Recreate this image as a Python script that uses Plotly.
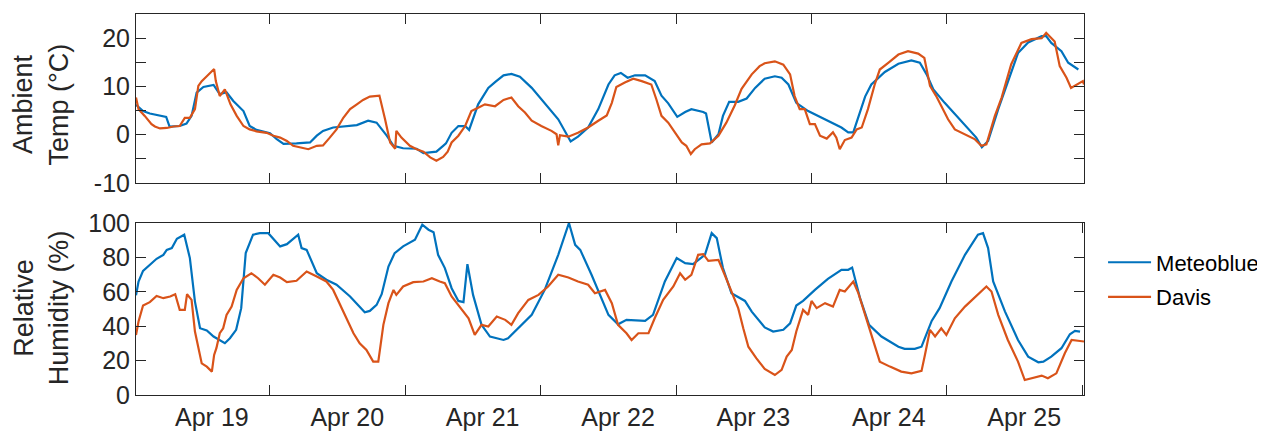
import pandas as pd
import plotly.graph_objects as go

# ---------------- data (hours after Apr 19 00:00) ----------------
start = pd.Timestamp("2024-04-19 00:00")

mb_temp_h = [0.25, 1.5, 2.7, 5.1, 5.6, 6.2, 8.0, 9.2, 10.1, 11.0, 12.2, 14.0, 15.1, 16.3, 17.5, 19.3,
             20.4, 21.6, 24.0, 25.2, 26.4, 28.7, 31.1, 32.3, 33.4, 35.2, 37.6, 39.4, 41.4, 42.9, 44.7,
             45.9, 47.6, 50.0, 51.2, 53.5, 54.7, 55.2, 56.2, 57.4, 58.6, 59.3, 60.9, 62.7, 63.9, 65.4,
             66.8, 68.3, 70.4, 72.7, 75.1, 77.3, 78.6, 80.4, 82.2, 84.0, 85.1, 86.2, 87.4, 88.7, 90.5,
             92.2, 93.4, 94.6, 96.2, 97.6, 98.7, 100.8, 101.3, 102.3, 103.5, 104.3, 105.4, 107.0, 108.5,
             110.0, 111.7, 113.5, 114.7, 115.9, 117.3, 119.4, 121.8, 125.3, 126.5, 127.4, 129.5, 130.6,
             133.0, 135.4, 137.7, 139.2, 140.4, 141.6, 143.6, 146.0, 149.2, 150.2, 151.3, 153.1, 154.9,
             156.6, 158.4, 160.8, 161.6, 162.5, 164.3, 165.5, 167.3]
mb_temp = [6.2, 4.9, 4.4, 3.9, 3.7, 1.7, 1.8, 2.3, 3.9, 8.7, 9.9, 10.3, 8.4, 8.8, 7.0, 4.9,
           1.8, 1.0, 0.3, -0.9, -1.9, -1.8, -1.6, -0.2, 0.8, 1.5, 1.7, 2.0, 2.9, 2.5, -0.2,
           -2.3, -2.8, -2.9, -3.8, -3.5, -2.3, -1.8, 0.4, 1.8, 1.8, 1.0, 6.3, 9.7, 10.9, 12.3,
           12.6, 12.0, 9.7, 6.6, 3.2, -1.4, -0.4, 1.5, 5.3, 10.4, 12.3, 12.8, 11.8, 12.3, 12.3,
           11.1, 8.1, 6.5, 3.7, 4.7, 5.3, 4.7, 4.4, -1.6, 0.1, 3.9, 6.8, 6.8, 7.5,
           9.7, 11.6, 12.1, 11.8, 10.4, 6.6, 4.9, 3.5, 1.5, 0.5, 0.5, 7.9, 10.4,
           13.0, 14.7, 15.4, 14.9, 12.5, 9.4, 6.6, 3.5, -0.6, -2.6, -1.3, 5.3, 11.4,
           16.9, 19.1, 20.4, 20.4, 19.0, 17.3, 14.9, 13.5]

dv_temp_h = [0.25, 0.7, 1.8, 3.0, 3.6, 4.5, 5.7, 6.9, 8.0, 8.9, 9.8, 10.7, 11.3, 11.9, 12.8, 13.7,
             14.1, 14.4, 15.1, 16.0, 17.0, 18.1, 19.3, 20.4, 21.6, 23.4, 24.6, 25.8, 27.0, 28.1, 29.3,
             30.8, 32.3, 33.4, 34.6, 35.8, 37.0, 38.2, 39.4, 40.5, 41.7, 42.9, 43.4, 44.4, 45.3, 46.2,
             46.4, 47.3, 48.8, 50.0, 51.2, 52.4, 53.5, 54.7, 55.5, 56.2, 57.4, 58.6, 59.7, 60.9, 62.1,
             63.9, 65.4, 66.8, 68.0, 69.2, 70.4, 72.1, 73.9, 74.8, 75.1, 75.4, 76.9, 78.6, 80.4, 82.2,
             83.7, 84.6, 85.4, 86.9, 88.4, 89.9, 91.6, 92.5, 93.4, 94.6, 95.8, 97.0, 97.8, 98.6, 99.3,
             100.5, 102.0, 103.5, 104.9, 106.4, 107.6, 109.4, 110.8, 111.7, 113.5, 115.0, 116.2, 117.0,
             117.9, 118.8, 119.7, 120.6, 121.5, 122.7, 123.8, 124.4, 125.0, 125.9, 127.1, 128.0, 128.9,
             130.0, 131.2, 132.1, 133.6, 135.4, 137.1, 138.9, 140.0, 141.0, 142.1, 143.0, 144.2, 145.4,
             147.2, 148.9, 150.1, 151.0, 152.5, 153.7, 155.4, 157.2, 159.0, 160.8, 161.6, 163.1, 164.0,
             165.2, 166.0, 167.0, 168.1, 168.3]
dv_temp = [7.7, 5.3, 3.9, 2.2, 1.7, 1.3, 1.4, 1.7, 1.8, 3.5, 3.5, 5.3, 10.1, 11.1, 12.1, 13.0,
           13.6, 11.1, 8.0, 9.4, 6.3, 3.9, 1.8, 1.1, 0.7, 0.4, -0.2, -0.6, -1.3, -2.3, -2.6,
           -3.0, -2.3, -2.2, -0.6, 1.1, 3.5, 5.3, 6.3, 7.2, 7.9, 8.0, 8.1, 3.2, -1.6, -2.9,
           0.8, -0.6, -2.3, -3.0, -3.5, -4.7, -5.4, -4.6, -3.5, -1.6, -0.2, 1.8, 4.9, 5.6, 6.3,
           5.9, 7.2, 7.7, 5.9, 4.6, 2.9, 1.8, 0.8, 0.1, -2.2, -0.1, -0.4, 0.4, 1.5, 2.9,
           4.0, 6.6, 9.9, 10.8, 11.6, 11.1, 10.4, 7.3, 3.9, 2.5, 0.4, -1.6, -2.3, -4.0, -3.0,
           -2.0, -1.8, -0.2, 2.5, 6.1, 9.5, 12.5, 14.2, 14.8, 15.2, 14.5, 12.5, 8.0,
           5.3, 5.3, 2.2, 2.2, -0.2, -0.8, 0.5, -0.6, -3.0, -1.1, -0.6, 1.1, 1.5,
           5.3, 10.4, 13.5, 14.9, 16.6, 17.3, 16.8, 15.9, 10.1, 8.0, 5.9, 3.2, 1.1,
           0.1, -0.9, -2.3, -2.0, 3.9, 7.7, 14.6, 19.0, 19.8, 20.0, 21.1, 19.3, 14.2,
           11.8, 9.7, 10.4, 11.1, 10.4]

mb_rh_h = [0.25, 0.7, 1.5, 2.7, 3.9, 5.1, 5.7, 6.6, 7.5, 8.8, 9.8, 10.7, 11.6, 12.8, 14.0, 16.0,
           16.9, 18.0, 18.9, 19.7, 21.0, 22.2, 23.7, 25.8, 27.0, 29.0, 29.6, 30.5, 32.3, 34.0, 35.8,
           38.2, 40.8, 41.7, 42.9, 43.8, 45.0, 46.1, 47.6, 49.7, 51.0, 52.1, 53.0, 53.8, 55.0, 56.2,
           57.4, 58.3, 59.0, 60.0, 61.5, 63.0, 65.4, 66.2, 68.0, 70.4, 72.7, 75.1, 77.0, 78.1, 79.0,
           81.0, 84.0, 85.7, 87.2, 90.5, 91.9, 94.0, 96.1, 97.6, 99.0, 101.1, 102.3, 103.2, 104.3,
           105.8, 108.2, 109.4, 111.7, 113.2, 115.0, 116.2, 117.3, 118.5, 120.6, 122.9, 125.3, 126.5,
           127.2, 128.6, 130.2, 132.4, 135.4, 136.5, 138.3, 139.5, 141.3, 142.7, 144.8, 147.2, 149.5,
           150.4, 151.3, 152.2, 154.3, 156.6, 158.4, 160.2, 161.1, 162.5, 164.3, 165.8, 166.7, 167.6]
mb_rh = [58.0, 66.0, 72.2, 75.7, 79.2, 81.5, 84.4, 85.4, 90.8, 93.2, 79.6, 54.3, 38.8, 37.5, 34.0, 30.1,
         33.0, 37.9, 50.5, 82.5, 93.2, 94.1, 94.1, 86.4, 87.7, 93.2, 85.4, 84.4, 70.8, 67.0, 64.1,
         57.3, 48.1, 48.9, 52.4, 58.6, 74.7, 82.5, 86.4, 90.3, 99.0, 96.1, 94.7, 81.5, 73.8, 62.1,
         54.7, 54.0, 76.1, 58.2, 40.8, 34.0, 32.0, 33.0, 38.8, 46.6, 61.1, 81.5, 100.0, 87.3, 84.4,
         69.9, 46.6, 41.1, 43.7, 43.1, 46.6, 66.0, 79.6, 76.7, 76.1, 81.5, 94.1, 91.2, 73.8,
         59.2, 54.7, 48.5, 39.3, 36.9, 37.9, 41.7, 52.0, 54.7, 61.1, 67.5, 72.8, 72.8,
         74.1, 56.3, 40.8, 34.0, 28.1, 26.8, 26.8, 28.1, 43.1, 50.5, 66.0, 81.5, 93.2,
         94.1, 85.4, 66.0, 48.5, 32.0, 22.3, 19.0, 19.4, 22.3, 27.2, 35.3, 37.3, 36.9]

dv_rh_h = [0.25, 0.7, 1.5, 2.7, 3.9, 5.1, 6.3, 7.2, 8.0, 8.9, 9.3, 10.1, 10.7, 11.3, 11.9, 12.8,
           13.7, 14.1, 14.5, 15.1, 15.7, 16.3, 17.2, 18.1, 19.3, 20.7, 21.9, 23.1, 24.6, 25.8, 27.0,
           28.7, 30.5, 32.3, 34.0, 35.2, 36.4, 37.6, 38.8, 39.9, 41.1, 42.3, 43.2, 44.1, 45.0, 45.9,
           46.4, 47.6, 49.4, 51.2, 52.7, 54.1, 55.0, 56.2, 58.0, 59.2, 60.3, 61.5, 62.7, 64.2, 65.7,
           66.8, 68.0, 69.8, 71.6, 73.3, 75.1, 76.9, 78.6, 80.4, 81.6, 83.4, 84.6, 85.7, 87.2, 88.1,
           89.3, 91.1, 92.2, 93.7, 95.5, 96.7, 97.6, 98.7, 99.9, 100.8, 101.7, 103.5, 104.6, 105.8,
           107.0, 107.9, 108.8, 110.2, 111.7, 113.5, 114.7, 115.6, 116.5, 117.3, 118.5, 119.4, 120.0,
           120.9, 122.4, 123.8, 125.0, 125.9, 127.4, 128.3, 129.5, 131.2, 132.1, 133.9, 135.9, 137.7,
           139.5, 140.1, 141.0, 141.9, 143.0, 143.9, 145.4, 147.2, 148.9, 151.0, 151.9, 153.1, 154.8,
           156.6, 157.8, 159.0, 160.8, 161.9, 163.4, 164.9, 166.1, 167.6, 168.3]
dv_rh = [34.9, 42.7, 52.0, 54.0, 57.6, 56.3, 57.3, 58.6, 49.5, 49.5, 58.6, 55.3, 36.9, 27.2, 18.4, 16.5,
         13.6, 23.3, 27.2, 35.9, 38.8, 46.6, 51.4, 61.1, 67.9, 70.8, 67.9, 64.1, 69.9, 68.3, 65.6,
         66.4, 71.8, 68.9, 66.0, 61.1, 52.4, 44.6, 35.9, 30.1, 26.2, 19.4, 19.4, 40.8, 53.4, 61.1,
         58.2, 63.1, 65.6, 66.0, 67.9, 66.0, 65.0, 57.3, 49.5, 44.6, 34.9, 40.8, 39.8, 45.6, 43.7,
         40.8, 47.6, 55.3, 58.2, 63.1, 69.9, 68.3, 66.0, 64.1, 59.2, 61.1, 53.4, 40.8, 35.9, 32.0,
         35.9, 35.9, 44.6, 55.3, 63.1, 70.8, 67.0, 69.9, 81.5, 81.9, 78.0, 78.6, 69.9, 60.2,
         50.5, 38.8, 28.1, 21.4, 15.1, 11.6, 14.6, 22.3, 26.2, 36.9, 49.5, 46.6, 54.7,
         50.5, 53.4, 51.4, 61.1, 60.2, 66.0, 59.2, 46.6, 29.1, 19.4, 16.5, 13.6, 12.6,
         14.0, 23.3, 37.9, 34.0, 38.8, 34.9, 44.6, 51.4, 56.7, 63.1, 60.2, 46.6, 32.0,
         19.4, 8.7, 9.7, 11.3, 9.7, 12.6, 24.3, 32.0, 31.4, 31.1]

day_labels = ["Apr 19", "Apr 20", "Apr 21", "Apr 22", "Apr 23", "Apr 24", "Apr 25"]
temp_ticks = [-10, -5, 0, 5, 10, 15, 20, 25]
temp_ticktext = ["-10", "", "0", "", "10", "", "20", ""]
rh_ticks = [0, 20, 40, 60, 80, 100]


def to_time(hours):
    return start + pd.to_timedelta(hours, unit="h")


BLUE = "#0072BD"
ORANGE = "#D95319"
AX = "#262626"
FONT = "Arial, Liberation Sans, sans-serif"
TICK_SIZE = 25

fig = go.Figure()
fig.add_trace(go.Scatter(x=to_time(mb_temp_h), y=mb_temp, mode="lines", name="Meteoblue",
                         line=dict(color=BLUE, width=2.2), legendgroup="mb",
                         xaxis="x", yaxis="y"))
fig.add_trace(go.Scatter(x=to_time(dv_temp_h), y=dv_temp, mode="lines", name="Davis",
                         line=dict(color=ORANGE, width=2.2), legendgroup="dv",
                         xaxis="x", yaxis="y"))
fig.add_trace(go.Scatter(x=to_time(mb_rh_h), y=mb_rh, mode="lines", name="Meteoblue",
                         line=dict(color=BLUE, width=2.2), legendgroup="mb", showlegend=False,
                         xaxis="x2", yaxis="y2"))
fig.add_trace(go.Scatter(x=to_time(dv_rh_h), y=dv_rh, mode="lines", name="Davis",
                         line=dict(color=ORANGE, width=2.2), legendgroup="dv", showlegend=False,
                         xaxis="x2", yaxis="y2"))

xr = [start + pd.Timedelta(minutes=15), start + pd.Timedelta(hours=168, minutes=18)]
midnights = [start + pd.Timedelta(days=d) for d in range(1, 7)]
label_pos = [start + pd.Timedelta(days=d, hours=13.7) for d in range(7)]

common_x = dict(range=xr, showgrid=False, zeroline=False, showline=True, linecolor=AX,
                linewidth=1, mirror="ticks", tickcolor=AX, tickwidth=1, automargin=False)
common_y = dict(showgrid=False, zeroline=False, showline=True, linecolor=AX, linewidth=1,
                mirror="ticks", ticks="inside", ticklen=10, tickcolor=AX, tickwidth=1,
                automargin=False,
                tickfont=dict(family=FONT, size=TICK_SIZE, color=AX))

# the page body adds an 8px offset, so the figure is 8px smaller than the window
fig.update_layout(
    width=1257, height=425,
    margin=dict(l=128, r=181, t=6, b=38, autoexpand=False),
    paper_bgcolor="white", plot_bgcolor="white",
    font=dict(family=FONT, color=AX),
    xaxis=dict(common_x, domain=[0, 1], anchor="y", tickmode="array", tickvals=midnights,
               ticks="inside", ticklen=10, showticklabels=False),
    yaxis=dict(common_y, domain=[0.5564, 1], anchor="x", range=[-10, 25], tickmode="array",
               tickvals=temp_ticks, ticktext=temp_ticktext),
    xaxis2=dict(common_x, domain=[0, 1], anchor="y2", matches="x", tickmode="array",
                tickvals=label_pos, ticktext=day_labels, ticks="", ticklen=0,
                tickfont=dict(family=FONT, size=TICK_SIZE, color=AX),
                minor=dict(ticks="inside", ticklen=10, tickcolor=AX, tickwidth=1,
                           tick0=start, dtick=86400000, showgrid=False)),
    yaxis2=dict(common_y, domain=[0, 0.4514], anchor="x2", range=[0, 100], tickmode="array",
                tickvals=rh_ticks, ticktext=[str(v) for v in rh_ticks]),
    legend=dict(x=1.0201, xanchor="left", y=0.302, yanchor="middle", tracegroupgap=3,
                itemwidth=43,
                font=dict(family=FONT, size=22, color="black"), bgcolor="rgba(0,0,0,0)"),
    annotations=[
        dict(text="Ambient<br>Temp (°C)", xref="paper", yref="paper", x=-0.0997, y=0.7638,
             xanchor="center", yanchor="middle", textangle=-90, showarrow=False,
             font=dict(family=FONT, size=27, color=AX)),
        dict(text="Relative<br>Humidity (%)", xref="paper", yref="paper", x=-0.1002, y=0.228,
             xanchor="center", yanchor="middle", textangle=-90, showarrow=False,
             font=dict(family=FONT, size=27, color=AX)),
    ],
)

fig.write_html("out.html")
